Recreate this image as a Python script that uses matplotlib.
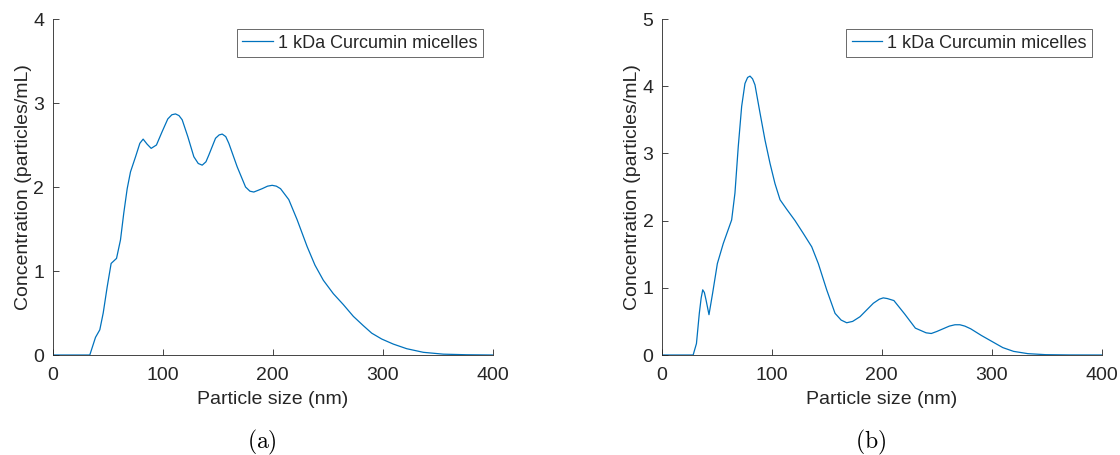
import matplotlib
matplotlib.use("Agg")
import matplotlib.pyplot as plt

# particle size (nm) / concentration, panel (a)
size_a = [0, 20, 33.9, 39.1, 43, 46.1, 49.7, 53.3, 58.2, 61.8, 64.8, 67.9, 70.9, 75.5,
          79.4, 82.4, 86, 89.7, 94.5, 99.7, 104.8, 108.5, 111.8, 115, 117.9, 123, 128.5,
          132.5, 136.1, 139.5, 142.1, 148.2, 151.5, 154.3, 157.5, 160.3, 167.9, 175.5,
          179.5, 183, 190.6, 195.5, 199.7, 203.5, 207.3, 214.8, 222.4, 231.5, 238.6,
          246.2, 255.3, 264.4, 273.5, 282.5, 290.2, 299.3, 309.8, 322, 337.1, 355.3,
          376.5, 400]
conc_a = [0, 0, 0, 0.21, 0.30, 0.50, 0.81, 1.09, 1.15, 1.37, 1.69, 1.98, 2.18, 2.36,
          2.52, 2.57, 2.51, 2.46, 2.50, 2.66, 2.81, 2.86, 2.87, 2.85, 2.80, 2.60, 2.36,
          2.28, 2.26, 2.30, 2.38, 2.58, 2.62, 2.63, 2.60, 2.52, 2.24, 2.00,
          1.95, 1.94, 1.98, 2.01, 2.02, 2.01, 1.98, 1.85, 1.61, 1.29, 1.07,
          0.89, 0.73, 0.60, 0.46, 0.35, 0.26, 0.19, 0.13, 0.075, 0.032, 0.01,
          0.003, 0]

# panel (b)
size_b = [0, 20, 28.5, 31.5, 34.1, 35.8, 37.2, 38.7, 40.2, 42.9, 46.2, 50.5, 55.9, 63.5,
          66.5, 69.5, 72.6, 75.6, 78, 80.2, 82.5, 84.7, 89.3, 93.8, 98.4, 102.9, 107.5,
          113.5, 121.1, 128.6, 136.3, 142.3, 149.9, 157.5, 163, 168.1, 173.5, 180.2,
          192.3, 197.7, 201.3, 205, 211, 220.8, 230.5, 240.3, 245, 250, 261.4, 266.5,
          271, 275.5, 280.8, 290.6, 300.3, 310, 319.8, 332.8, 349, 370, 400]
conc_b = [0, 0, 0, 0.17, 0.62, 0.85, 0.97, 0.93, 0.82, 0.60, 0.92, 1.36, 1.66, 2.01,
          2.41, 3.10, 3.70, 4.04, 4.13, 4.15, 4.11, 4.02, 3.60, 3.20, 2.85, 2.55, 2.31,
          2.17, 2.00, 1.81, 1.61, 1.36, 0.97, 0.62, 0.52, 0.48, 0.50, 0.57,
          0.77, 0.83, 0.85, 0.84, 0.81, 0.61, 0.40, 0.33, 0.32, 0.35, 0.43, 0.45,
          0.45, 0.43, 0.39, 0.29, 0.20, 0.11, 0.054, 0.02, 0.005, 0.001, 0]

label = "1 kDa Curcumin micelles"
panels = [
    (size_a, conc_a, [0, 1, 2, 3, 4], "(a)"),
    (size_b, conc_b, [0, 1, 2, 3, 4, 5], "(b)"),
]

plt.rcParams["font.family"] = ["Liberation Sans", "DejaVu Sans"]
plt.rcParams["mathtext.fontset"] = "cm"
txt = "#262626"
fs = 14

W, H = 1120, 455
fig = plt.figure(figsize=(W / 100, H / 100), dpi=100)
lefts = [52.5, 661.8]
caps_x = [262, 871]
for (x, y, yt, cap), l, cx in zip(panels, lefts, caps_x):
    ax = fig.add_axes([l / W, 1 - 355 / H, 440 / W, 336 / H])
    ax.plot(x, y, color="#0072BD", lw=0.9, label=label)
    ax.set_xlim(0, 400)
    ax.set_ylim(yt[0], yt[-1])
    ax.set_xticks([0, 100, 200, 300, 400])
    ax.set_yticks(yt)
    for s in ["top", "right"]:
        ax.spines[s].set_visible(False)
    for s in ["left", "bottom"]:
        ax.spines[s].set_color(txt)
        ax.spines[s].set_linewidth(0.6)
    ax.tick_params(direction="in", length=4, width=0.6, colors=txt, labelsize=fs)
    ax.tick_params(axis="x", pad=9)
    ax.tick_params(axis="y", pad=6)
    ax.set_xlabel("Particle size (nm)", fontsize=fs, color=txt, labelpad=5)
    ax.set_ylabel("Concentration (particles/mL)", fontsize=fs, color=txt, labelpad=1)
    leg = ax.legend(loc="upper right", bbox_to_anchor=((l + 430) / W, 1 - 29.3 / H),
                    bbox_transform=fig.transFigure, fontsize=13, frameon=True,
                    fancybox=False, handlelength=1.7, handletextpad=0.25,
                    borderpad=0.3, borderaxespad=0)
    leg.get_frame().set_edgecolor(txt)
    leg.get_frame().set_linewidth(0.6)
    for t in leg.get_texts():
        t.set_color(txt)
    fig.text(cx / W, 1 - 442 / H, r"$\mathrm{" + cap + "}$", ha="center", va="center",
             fontsize=17)

fig.savefig("out.png", dpi=100)
